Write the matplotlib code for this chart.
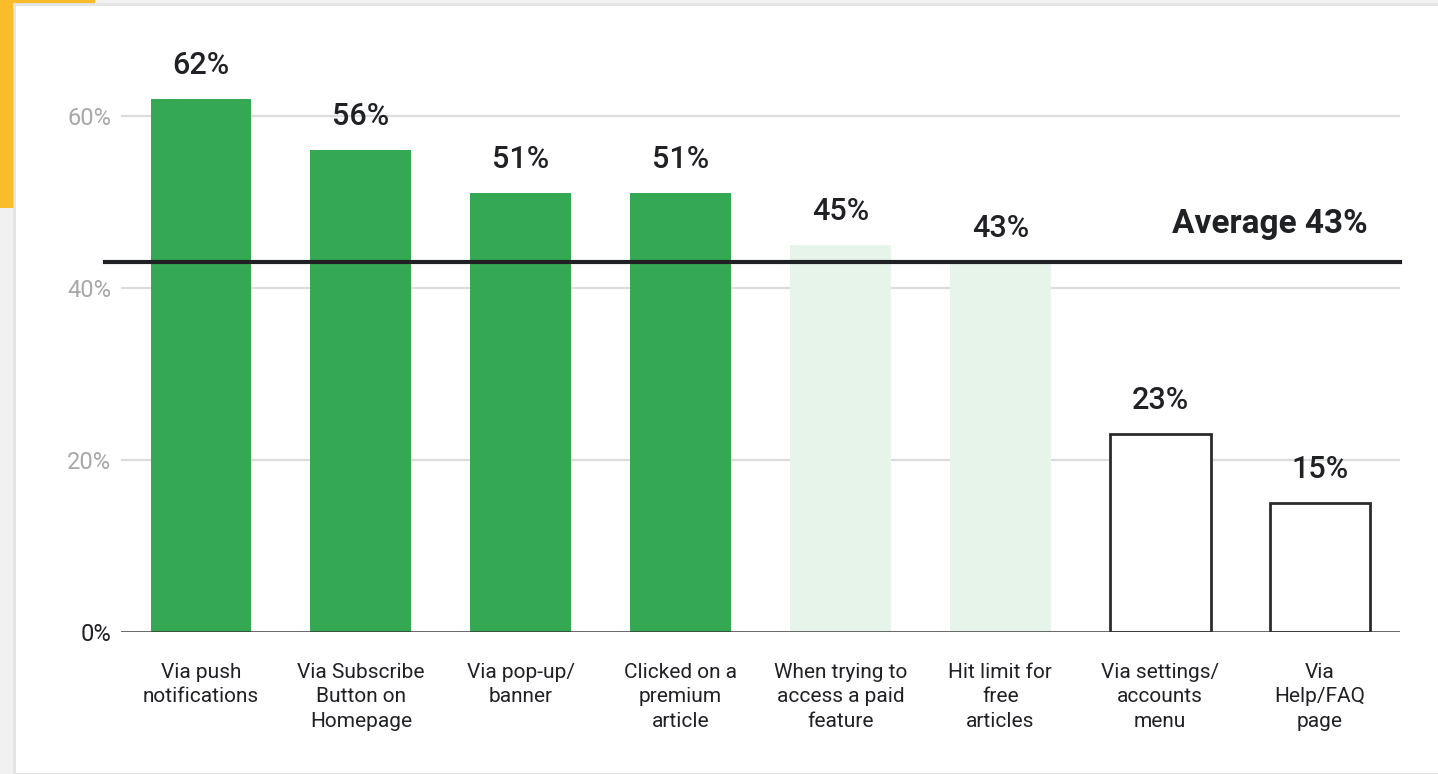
import matplotlib.pyplot as plt
from matplotlib.patches import Rectangle
import numpy as np

plt.rcParams['font.family'] = ['Roboto', 'DejaVu Sans']

categories = ['Via push\nnotifications', 'Via Subscribe\nButton on\nHomepage',
              'Via pop-up/\nbanner', 'Clicked on a\npremium\narticle',
              'When trying to\naccess a paid\nfeature', 'Hit limit for\nfree\narticles',
              'Via settings/\naccounts\nmenu', 'Via\nHelp/FAQ\npage']
values = [62, 56, 51, 51, 45, 43, 23, 15]
groups = ['above', 'above', 'above', 'above', 'avg', 'avg', 'below', 'below']
average = 43
yticks = [0, 20, 40, 60]

W, H = 1438, 774
fig = plt.figure(figsize=(W / 100, H / 100), dpi=100)
fig.patch.set_facecolor('#f1f1f1')


def fx(px):
    return px / W


def fy(py):
    return 1 - py / H


# yellow tab behind the card, then the white card
fig.patches.append(Rectangle((0, fy(208)), fx(95), 208 / H, transform=fig.transFigure,
                             facecolor='#fbbc2c', edgecolor='none', zorder=-3))
fig.patches.append(Rectangle((fx(14), 0), 1, fy(4), transform=fig.transFigure,
                             facecolor='white', edgecolor='#e4e4e6', linewidth=2, zorder=-2))

ppu = 8.6  # pixels per percent
y0 = 632
ymax = 70
ax = fig.add_axes([fx(121), fy(y0), fx(1400) - fx(121), ymax * ppu / H])
ax.set_facecolor('none')

x = np.arange(len(values))
styles = {'above': dict(color='#34a853', edgecolor='none'),
          'avg': dict(color='#e6f4ea', edgecolor='none'),
          'below': dict(color='white', edgecolor='#2b2b2b', linewidth=2)}
for xi, v, g in zip(x, values, groups):
    ax.bar(xi, v, width=0.63, zorder=3, **styles[g])
    ax.text(xi, v + 2.2, f'{v}%', ha='center', va='bottom', fontsize=22,
            fontweight='medium', color='#202124', zorder=5)

ax.set_xlim(-0.5, len(values) - 0.5)
ax.set_ylim(0, ymax)

for t in yticks[1:]:
    ax.axhline(t, color='#dcdcdc', linewidth=1.6, zorder=1)
ax.axhline(0, color='#3c3c3c', linewidth=1.8, zorder=4)
ax.plot([-0.6, len(values) - 0.5], [average, average], color='#202124',
        linewidth=3, clip_on=False, zorder=6)
ax.text(7.3, average + 4.5, f'Average {average}%', ha='right', va='center',
        fontsize=24, fontweight='bold', color='#202124')

ax.set_yticks(yticks)
ax.set_yticklabels([f'{t}%' for t in yticks], fontsize=17)
for lbl, t in zip(ax.get_yticklabels(), yticks):
    lbl.set_color('#202124' if t == 0 else '#a8a8a8')
ax.set_xticks(x)
ax.set_xticklabels(categories, fontsize=15, color='#202124', va='top',
                   linespacing=1.38)
ax.tick_params(axis='y', length=0, pad=7)
ax.tick_params(axis='x', length=0, pad=22)
for s in ax.spines.values():
    s.set_visible(False)

fig.savefig('out.png', dpi=100, facecolor=fig.get_facecolor())
